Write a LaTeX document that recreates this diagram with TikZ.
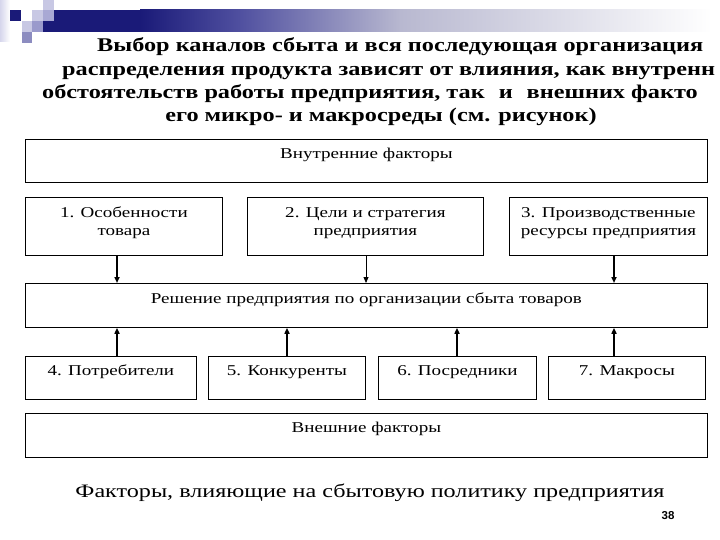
\documentclass[tikz,border=0pt]{standalone}
\usepackage{fontspec}
\setmainfont{Liberation Serif}[FakeStretch=1.27]
\newfontfamily\titlefont{Liberation Serif}[FakeStretch=1.25]
\newfontfamily\numfont{Liberation Sans}
\usetikzlibrary{arrows.meta}
\definecolor{navy}{RGB}{26,26,120}
\definecolor{navymid}{RGB}{80,80,160}
\definecolor{lavgray}{RGB}{184,184,208}
\definecolor{lavA}{RGB}{200,200,228}
\definecolor{lavB}{RGB}{168,168,212}
\definecolor{lavC}{RGB}{154,154,204}
\definecolor{lavD}{RGB}{140,140,192}
\definecolor{lavE}{RGB}{214,214,236}
\newcommand{\boxtext}[4]{\parbox[c][#2][t]{#1}{\centering\fontsize{15}{18}\selectfont\rule{0pt}{#3}#4}}
\tikzset{
  fbox/.style={draw, line width=0.8pt, inner sep=0pt, anchor=north west},
  arr/.style={-{Triangle[length=6pt,width=5pt]}, line width=1.6pt},
  thinarr/.style={-{Triangle[length=6pt,width=5pt]}, line width=0.8pt},
  titleline/.style={anchor=base west, inner sep=0pt, font=\titlefont\bfseries\fontsize{19.4}{22}\selectfont},
}
\begin{document}
\begin{tikzpicture}[x=1pt,y=-1pt]
\useasboundingbox (0,0) rectangle (720,540);
\fill[white] (0,0) rectangle (720,540);
% decoration
\shade[left color=lavE, right color=white] (0,0) rectangle (10,42);
\fill[navy] (10,10) rectangle (21,21);
\fill[lavA] (32,10) rectangle (43,21);
\fill[lavA] (43,0) rectangle (54,10);
\fill[lavB] (43,10) rectangle (54,21);
\fill[lavA] (22,21) rectangle (32,32);
\fill[lavC] (32,21) rectangle (43,32);
\fill[lavD] (22,32) rectangle (32,43);
\fill[navy] (43,21) rectangle (54,32);
\fill[navy] (54,10) rectangle (140.5,32);
\shade[left color=navy, right color=navymid] (140,10) rectangle (240.5,32);
\shade[left color=navymid, right color=lavgray] (240,10) rectangle (400.5,32);
\shade[left color=lavgray, right color=white] (400,10) rectangle (712,32);
% title
\node[titleline] (t1) at (97,52) {Выбор каналов сбыта и вся последующая организация};
\node[titleline] (t2) at (62,76) {распределения продукта зависят от влияния, как внутренн};
\node[titleline] (t3) at (42,99) {обстоятельств работы предприятия, так\hspace{14pt}и\hspace{14pt}внешних факто};
\node[titleline, anchor=base] (t4) at (381,122) {его микро- и макросреды (см. рисунок)};
% boxes
\node[fbox] (T) at (25,139) {\boxtext{682pt}{43pt}{19pt}{Внутренние факторы}};
\node[fbox] (b1) at (25,197) {\boxtext{197pt}{58pt}{20pt}{1. Особенности\\товара}};
\node[fbox] (b2) at (247,197) {\boxtext{236pt}{58pt}{20pt}{2. Цели и стратегия\\предприятия}};
\node[fbox] (b3) at (509,197) {\boxtext{198pt}{58pt}{20pt}{3. Производственные\\ресурсы предприятия}};
\node[fbox] (D) at (25,283) {\boxtext{682pt}{44pt}{20pt}{Решение предприятия по организации сбыта товаров}};
\node[fbox] (b4) at (25,356) {\boxtext{171pt}{43pt}{19pt}{4. Потребители}};
\node[fbox] (b5) at (208,356) {\boxtext{157pt}{43pt}{19pt}{5. Конкуренты}};
\node[fbox] (b6) at (378,356) {\boxtext{158pt}{43pt}{19pt}{6. Посредники}};
\node[fbox] (b7) at (548,356) {\boxtext{157pt}{43pt}{19pt}{7. Макросы}};
\node[fbox] (E) at (25,413) {\boxtext{682pt}{44pt}{19pt}{Внешние факторы}};
% arrow columns
\coordinate (xa) at (117,0);
\coordinate (xb) at (366,0);
\coordinate (xc) at (614,0);
\coordinate (xd) at (287,0);
\coordinate (xe) at (457,0);
\draw[arr] (b1.south -| xa) -- (D.north -| xa);
\draw[thinarr] (b2.south -| xb) -- (D.north -| xb);
\draw[arr] (b3.south -| xc) -- (D.north -| xc);
\draw[arr] (b4.north -| xa) -- (D.south -| xa);
\draw[arr] (b5.north -| xd) -- (D.south -| xd);
\draw[arr] (b6.north -| xe) -- (D.south -| xe);
\draw[arr] (b7.north -| xc) -- (D.south -| xc);
% caption
\node[anchor=base, inner sep=0pt, font=\fontsize{19}{22}\selectfont] (cap) at (370,497) {Факторы, влияющие на сбытовую политику предприятия};
\node[anchor=base, inner sep=0pt, font=\numfont\bfseries\fontsize{11.5}{13}\selectfont] (pg) at (668,519) {38};
\end{tikzpicture}
\end{document}
